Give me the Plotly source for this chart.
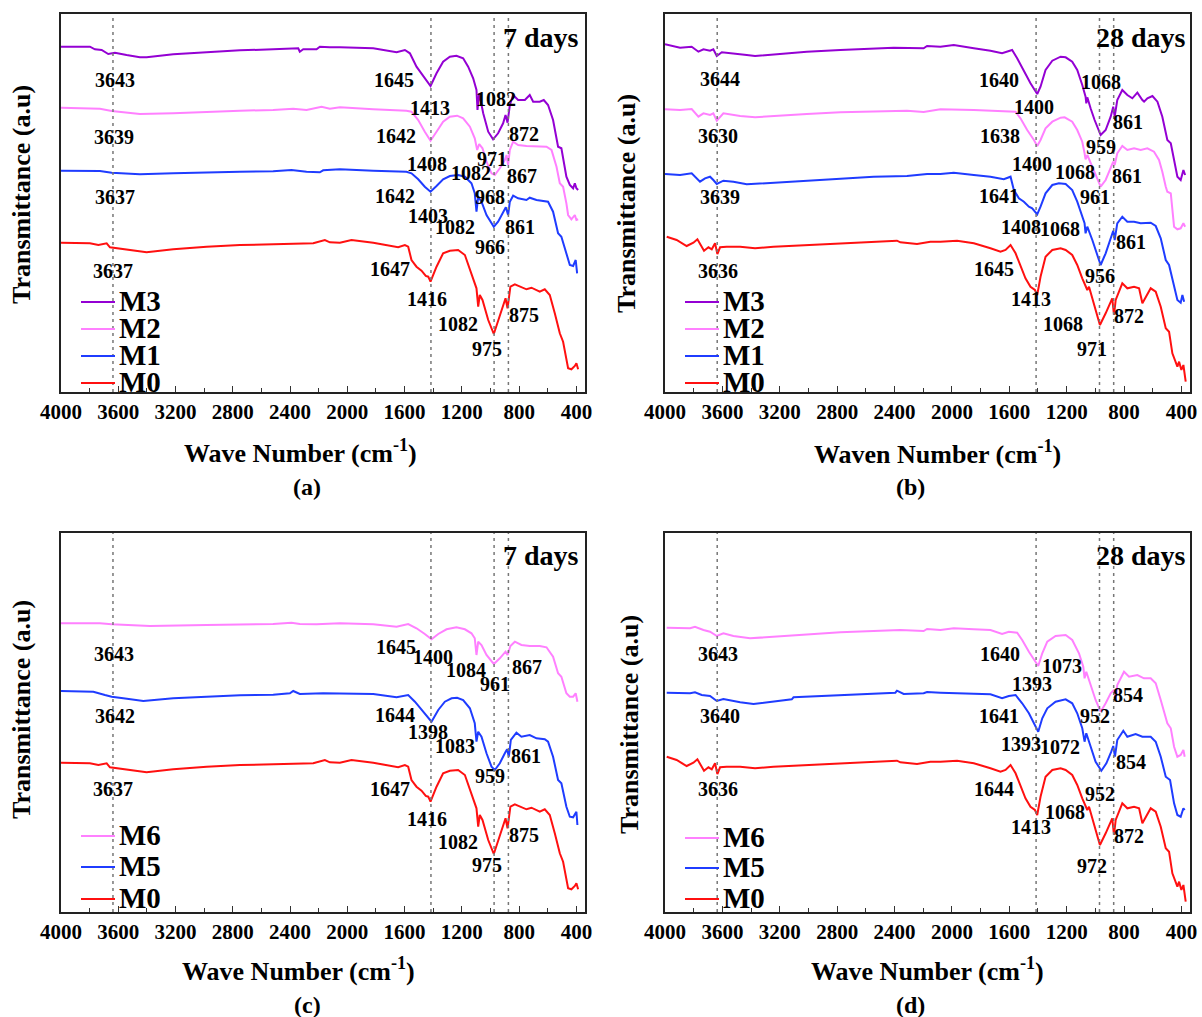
import plotly.graph_objects as go

# ---------------- data (wavenumber cm-1, transmittance a.u.) ----------------
M0_7d_wn = [4000, 3798, 3739, 3681, 3658, 3565, 3402, 3216, 2983, 2750, 2518, 2238, 2157, 2122,
            2052, 1971, 1819, 1645, 1598, 1575, 1552, 1517, 1482, 1452, 1435, 1419, 1377, 1331,
            1284, 1226, 1179, 1133, 1098, 1086, 1075, 1056, 1016, 977, 935, 895, 881, 861, 830,
            795, 749, 714, 656, 621, 586, 551, 516, 493, 458, 435, 411, 400, 388]
M0_7d_t = [149.3, 148.7, 147, 148.7, 144.7, 142.7, 139.7, 142.7, 145.3, 147, 148, 148.7, 152, 149.7,
           149.3, 152, 149.3, 144.7, 147, 145.3, 132, 125.3, 121.3, 116, 115.3, 110.3, 125.3, 138.7,
           141.3, 142, 137, 118.7, 103.7, 85.3, 97, 92, 72, 58, 75.3, 93.7, 83.7, 105.3, 107.7,
           105.3, 102.7, 104.3, 100.3, 102.7, 97, 78.7, 58.7, 50.3, 23.7, 22.7, 26, 28.7, 22.7]

M1_7d_wn = [4000, 3728, 3646, 3449, 3216, 2983, 2750, 2518, 2390, 2285, 2192, 2169,
            2052, 1819, 1587, 1552, 1505, 1459, 1419, 1377, 1331, 1284, 1226, 1179, 1133, 1110,
            1098, 1086, 1063, 1028, 993, 977, 947, 912, 893, 877, 865, 842, 807, 749, 726, 679,
            633, 598, 563, 528, 505, 470, 446, 423, 405, 395]
M1_7d_t = [221.3, 221, 219.3, 217.7, 218.7, 219.7, 220.3, 220.7, 222, 220.3, 219.7, 221.7,
           222.7, 221.3, 220.3, 218.7, 212.7, 205.3, 200.3, 206, 212.7, 216, 217, 215.3, 208.7, 198.7,
           180.3, 195.3, 190.3, 177, 168, 165.3, 170.3, 178.7, 184.7, 177, 190.3, 196.3, 193.7, 192,
           194.3, 192, 191.3, 190.3, 180.3, 158.7, 155.3, 138.7, 127, 126, 132, 118.7]

M2_7d_wn = [4000, 3728, 3646, 3449, 3216, 2983, 2750, 2518, 2378, 2285, 2180, 2122,
            2052, 1819, 1587, 1552, 1505, 1459, 1419, 1377, 1331, 1284, 1233, 1191, 1144, 1110,
            1093, 1079, 1056, 1028, 993, 970, 935, 900, 888, 877, 865, 842, 807, 749, 702, 656,
            609, 574, 539, 516, 493, 470, 458, 435, 411, 400, 388]
M2_7d_t = [284.3, 283.3, 281, 278, 278.7, 280.3, 281.3, 282, 283.3, 282, 285.3, 283.3,
           284.7, 282.7, 281.3, 280.3, 272, 260.3, 251.3, 260.3, 270.3, 275.3, 276.3, 273.7, 265.3,
           253.7, 242, 248, 243.7, 230.3, 218.7, 217, 223.7, 232, 237, 227, 242, 250.3, 247, 246,
           246, 245.3, 245.3, 242, 225.3, 208.7, 205.3, 188.7, 177, 172.7, 177, 172, 172.7]

M3_7d_wn = [4000, 3867, 3798, 3763, 3716, 3670, 3623, 3542, 3449, 3402, 3216, 2983, 2750, 2518,
            2343, 2332, 2308, 2215, 2192, 2122,
            2052, 1819, 1656, 1598, 1563, 1517, 1459, 1419, 1377, 1331, 1284, 1238, 1191, 1156,
            1121, 1098, 1091, 1079, 1051, 1016, 982, 947, 912, 895, 881, 865, 842, 807, 760, 726,
            702, 656, 628, 598, 563, 528, 505, 470, 446, 423, 411, 400, 388]
M3_7d_t = [345.3, 345, 345.3, 342.7, 342, 338, 339.3, 337, 334.7, 334.7, 337.7, 339.7, 341.7, 342.7,
           343.7, 340.3, 342.7, 342.7, 345.3, 344.7,
           344.7, 343.7, 339.7, 342, 338.7, 325.3, 313.7, 306, 318.7, 330.3, 335.3, 336.3, 333.7,
           325.3, 313.7, 302, 282, 298.7, 278.7, 260.3, 252.7, 258.7, 268.7, 277, 269.3, 287, 297,
           292, 292, 297, 290.3, 290.3, 292, 287, 272, 245.3, 243.7, 215.3, 207, 203.7, 208.7,
           203.7, 202]

M5_7d_wn = [4000, 3774, 3693, 3646, 3565, 3425, 3216, 2983, 2750, 2518, 2401, 2378, 2332, 2169,
            2052, 1819, 1656, 1575, 1528, 1470, 1412, 1365, 1319, 1272, 1233, 1191, 1144, 1110,
            1098, 1086, 1063, 1028, 993, 970, 935, 900, 884, 872, 858, 819, 784, 726, 679, 621,
            598, 563, 528, 505, 470, 446, 423, 400, 393]
M5_7d_t = [221, 220.3, 217, 215.3, 213.7, 211, 213.7, 215.3, 216.7, 217.3, 218.7, 221, 218, 218.7,
           218.7, 218, 214.7, 217, 210.3, 200.3, 190.3, 202, 210.3, 213.7, 214.3, 212, 203.7, 188.7,
           170.3, 180.3, 175.3, 158.7, 145.3, 142, 148.7, 158.7, 162.7, 155.3, 172, 179.3, 175.3,
           177, 173.7, 172.7, 170.3, 155.3, 132, 128.7, 105.3, 95.3, 94.7, 100.3, 87]

M6_7d_wn = [4000, 3728, 3646, 3379, 2983, 2518, 2390, 2332, 2215,
            2052, 1819, 1656, 1575, 1517, 1459, 1412, 1365, 1307, 1238, 1179, 1133, 1110, 1098,
            1086, 1063, 1028, 977, 935, 895, 881, 861, 830, 784, 726, 656, 609, 563, 528, 505,
            470, 446, 423, 405, 393]
M6_7d_t = [288.7, 288.7, 287.7, 286, 287, 288, 289.3, 288, 287.7,
           288.7, 287.7, 285.3, 288, 283.7, 278, 272.7, 278, 282.7, 284.7, 282.7, 278.7, 273.7, 257,
           270.3, 267, 257, 248, 253.7, 260.3, 257, 266, 270.3, 267, 266, 266, 264.7, 255.3, 238.7,
           235.3, 218.7, 215.3, 215.3, 218.7, 210.3]

M0_28d_wn = [3988, 3919, 3849, 3802, 3774, 3756, 3728, 3697, 3674, 3651, 3635, 3616, 3570, 3476,
             3372, 3244, 3011, 2778, 2546, 2383, 2359, 2243, 2150,
             2080, 1964, 1847, 1731, 1661, 1626, 1591, 1556, 1522, 1487, 1452, 1421, 1405, 1382,
             1347, 1300, 1242, 1207, 1161, 1126, 1091, 1068, 1056, 1044, 1010, 968, 928, 905, 882,
             870, 858, 812, 777, 730, 695, 672, 649, 614, 579, 544, 509, 486, 463, 428, 416, 400,
             386, 370]
M0_28d_t = [155.3, 152, 146, 149.3, 152.7, 148.7, 141.3, 144.7, 142.7, 148.7, 138, 144.7, 145.3, 145.3,
            143.7, 145.3, 147, 148.7, 149.7, 151.3, 149.7, 148, 150.3,
            150.3, 151.3, 148.7, 143.7, 140.3, 142, 147, 138.7, 125.3, 113.7, 105.3, 102, 97, 115.3,
            135.3, 142, 143.7, 142, 137, 127, 113.7, 107, 102, 105.3, 88.7, 67, 78.7, 87, 93.7, 77,
            92, 108.7, 103.7, 105.3, 103.7, 88.7, 95.3, 103.7, 100.3, 85.3, 63.7, 60.3, 38.7, 25.3,
            30.3, 22, 27, 10.3]

M1_28d_wn = [4000, 3895, 3814, 3756, 3721, 3686, 3663, 3639, 3593, 3523, 3430, 3244, 3011, 2778,
             2546, 2313, 2173,
             2080, 1987, 1847, 1731, 1638, 1591, 1568, 1533, 1498, 1463, 1440, 1405, 1382, 1347,
             1300, 1254, 1207, 1161, 1126, 1091, 1075, 1068, 1056, 1021, 986, 963, 928, 893, 875,
             865, 847, 812, 777, 730, 684, 614, 579, 544, 509, 486, 451, 428, 405, 393, 381]
M1_28d_t = [218, 217, 218.7, 210.3, 213.7, 215.3, 212, 208, 211.3, 210.3, 207.7, 209.3, 212, 213.7,
            215.3, 216, 218,
            218, 219.3, 217, 215.3, 212.7, 215.3, 202, 193.7, 190.3, 185.3, 183.7, 177.7, 185.3,
            198.7, 207, 208.7, 208, 202, 190.3, 175.3, 168.7, 158.7, 165.3, 152, 137, 127, 138.7,
            155.3, 161.3, 152, 168.7, 175.3, 170.3, 170.3, 168.7, 169.3, 166, 153.7, 132, 127,
            105.3, 92, 89.3, 97, 90.3]

M2_28d_wn = [4000, 3895, 3814, 3767, 3732, 3686, 3663, 3639, 3593, 3476, 3372, 3244, 3011, 2778,
             2546, 2313, 2197,
             2080, 1847, 1615, 1556, 1522, 1475, 1428, 1405, 1382, 1347, 1300, 1242, 1214, 1161,
             1126, 1091, 1075, 1068, 1056, 1021, 986, 963, 928, 893, 875, 865, 847, 812, 777, 730,
             684, 637, 591, 556, 533, 509, 498, 474, 451, 428, 405, 386, 374]
M2_28d_t = [282.7, 282, 283, 275.3, 278.7, 277, 278.7, 271.3, 278.7, 276, 274.7, 276, 278, 279.7,
            280.3, 281.3, 280,
            282.7, 282, 280.3, 280.3, 273.7, 262, 252, 246, 252, 263.7, 270.3, 274.3, 274.7, 270.3,
            262, 250.3, 238.7, 232.7, 237, 225.3, 213.7, 205.3, 212, 223.7, 230.3, 227, 238.7, 246,
            242, 243.7, 242, 243.7, 240.3, 232, 220.3, 205.3, 200.3, 198.7, 165.3, 162.7, 163.7,
            168.7, 165.3]

M3_28d_wn = [4000, 3895, 3814, 3767, 3732, 3686, 3663, 3639, 3604, 3523, 3430, 3372, 3244, 3011,
             2778, 2546, 2406, 2197, 2173,
             2080, 1987, 1847, 1731, 1650, 1615, 1580, 1545, 1498, 1452, 1405, 1382, 1347, 1300,
             1242, 1207, 1161, 1126, 1091, 1068, 1063, 1056, 1033, 1005, 963, 928, 893, 875, 865,
             847, 812, 777, 742, 707, 672, 660, 637, 602, 567, 533, 498, 474, 451, 428, 405, 386,
             374]
M3_28d_t = [347.7, 344.3, 345.3, 340.3, 342.7, 341.3, 342.7, 336, 339.7, 338.7, 337, 336, 337.7, 340.3,
            342, 343.3, 344.3, 343.7, 346,
            345.3, 347, 343.7, 341.3, 338.7, 340.3, 342, 333.7, 320.3, 308.7, 298, 305.3, 322, 331.3,
            335.3, 334.7, 330.3, 322, 307, 295.3, 288.7, 294.7, 283.7, 272, 257, 262, 275.3, 285.3,
            275.3, 292, 302, 297, 293.7, 299.3, 292, 290.3, 293.7, 296, 290.3, 275.3, 252, 248.7,
            232, 215.3, 212, 222, 217]

M5_28d_wn = [3988, 3825, 3791, 3744, 3686, 3639, 3593, 3476, 3383, 3244, 3116, 3104, 3011, 2778,
             2546, 2394, 2383, 2336, 2197, 2173,
             2080, 1847, 1731, 1650, 1603, 1556, 1510, 1463, 1428, 1398, 1370, 1335, 1277, 1207,
             1161, 1126, 1091, 1075, 1063, 1033, 998, 958, 923, 889, 875, 863, 847, 805, 777, 719,
             672, 614, 579, 544, 509, 479, 451, 428, 405, 386, 377]
M5_28d_t = [219.3, 218.7, 219.7, 217, 216, 211, 213, 209.7, 208, 210.3, 212.7, 214.7, 215.3, 216.7,
            218, 219.3, 221.3, 218, 218.7, 220,
            219.3, 218.7, 217.7, 213.7, 216, 217, 208.7, 198.7, 188.7, 180.3, 193.7, 203.7, 210.3,
            212.7, 208.7, 198.7, 183.7, 170.3, 178.7, 165.3, 150.3, 141.3, 148.7, 160.3, 166, 155.3,
            172, 181.3, 175.3, 178, 175.3, 175.3, 170.3, 155.3, 135.3, 132, 108.7, 97, 95.3, 103.7,
            102]

M6_28d_wn = [3988, 3825, 3791, 3732, 3686, 3639, 3593, 3523, 3407, 3244, 3011, 2778, 2546, 2359,
             2197, 2173,
             2080, 1987, 1847, 1731, 1650, 1603, 1545, 1510, 1463, 1428, 1398, 1370, 1335, 1277,
             1207, 1161, 1114, 1084, 1075, 1063, 1033, 998, 963, 928, 893, 870, 858, 847, 800, 765,
             707, 661, 614, 579, 544, 498, 474, 451, 428, 405, 386, 377]
M6_28d_t = [284.3, 283.7, 285.3, 282, 280.3, 276, 278.7, 276, 273.7, 275.3, 277.7, 279.7, 281, 282,
            281, 283,
            282, 283.7, 282.7, 282, 278, 280.3, 279.3, 272, 260.3, 252, 246, 258.7, 270.3, 276, 277,
            272, 258.7, 245.3, 233.7, 240.3, 227, 212, 200.3, 208.7, 218.7, 222, 212, 227, 240.3,
            235.3, 237, 233.7, 233.7, 228.7, 212, 188.7, 183.7, 165.3, 155.3, 157, 162, 155.3]

x_tick_vals = [4000, 3600, 3200, 2800, 2400, 2000, 1600, 1200, 800, 400]
x_tick_text = ["4000", "3600", "3200", "2800", "2400", "2000", "1600", "1200", "800", "400"]

panel_a_marks = [3637, 1416, 975, 875]
panel_b_marks = [3636, 1413, 971, 872]

# ---------------- styling ----------------
W, H = 1202, 1017
FONT = "Liberation Serif"
COL = {"M0": "#ff1010", "M1": "#1f3cff", "M2": "#ff80ff", "M3": "#9400d3",
       "M5": "#1f3cff", "M6": "#ff80ff"}

panels = {
    "a": dict(box=(61, 585, 14, 392),
              series=[("M3", M3_7d_wn, M3_7d_t), ("M2", M2_7d_wn, M2_7d_t),
                      ("M1", M1_7d_wn, M1_7d_t), ("M0", M0_7d_wn, M0_7d_t)],
              marks=panel_a_marks),
    "b": dict(box=(665, 1190, 14, 392),
              series=[("M3", M3_28d_wn, M3_28d_t), ("M2", M2_28d_wn, M2_28d_t),
                      ("M1", M1_28d_wn, M1_28d_t), ("M0", M0_28d_wn, M0_28d_t)],
              marks=panel_b_marks),
    "c": dict(box=(61, 585, 533, 912),
              series=[("M6", M6_7d_wn, M6_7d_t), ("M5", M5_7d_wn, M5_7d_t),
                      ("M0", M0_7d_wn, M0_7d_t)],
              marks=panel_a_marks),
    "d": dict(box=(665, 1190, 533, 912),
              series=[("M6", M6_28d_wn, M6_28d_t), ("M5", M5_28d_wn, M5_28d_t),
                      ("M0", M0_28d_wn, M0_28d_t)],
              marks=panel_b_marks),
}


def px(x):
    return x / W


def py(y):
    return 1 - y / H


fig = go.Figure()
shapes = []
annotations = []

for i, (key, p) in enumerate(panels.items()):
    n = "" if i == 0 else str(i + 1)
    xa, ya = "xaxis" + n, "yaxis" + n
    xr, yr = "x" + n, "y" + n
    x0, x1, y0, y1 = p["box"]
    height_px = y1 - y0
    for name, wn, t in p["series"]:
        fig.add_trace(go.Scatter(x=wn, y=t, mode="lines", name=name, showlegend=False,
                                 line=dict(color=COL[name], width=2),
                                 xaxis=xr, yaxis=yr))
    fig.layout[xa] = dict(domain=[px(x0), px(x1)], range=[4000, 340], anchor=yr,
                          showline=True, mirror=True, linecolor="#222", linewidth=1.5,
                          showgrid=False, zeroline=False, automargin=False,
                          tickmode="array", tickvals=x_tick_vals, ticktext=x_tick_text,
                          ticks="inside", ticklen=6, tickwidth=1.2, tickcolor="#333",
                          minor=dict(dtick=200, tick0=0, ticks="inside", ticklen=4,
                                     tickwidth=1.2, tickcolor="#333"),
                          tickfont=dict(family=FONT, size=21, color="black", weight="bold"))
    fig.layout[ya] = dict(domain=[py(y1), py(y0)], range=[0, height_px], anchor=xr,
                          showline=True, mirror=True, linecolor="#222", linewidth=1.5,
                          showgrid=False, zeroline=False, showticklabels=False, ticks="",
                          automargin=False)
    for m in p["marks"]:
        shapes.append(dict(type="line", xref=xr, yref=yr + " domain", x0=m, x1=m, y0=0, y1=1,
                           line=dict(color="#777", width=1.5, dash="3px,4px")))

# legends (drawn from the series list of each panel)
legend_pos = {"a": (81, 115, [302, 329, 356, 383]),
              "b": (685, 719, [302, 329, 356, 383]),
              "c": (81, 115, [836, 867, 899]),
              "d": (685, 719, [838, 868, 899])}
for key, (lx0, lx1, rows) in legend_pos.items():
    for (name, _, _), ry in zip(panels[key]["series"], rows):
        shapes.append(dict(type="line", xref="paper", yref="paper",
                           x0=px(lx0), x1=px(lx1), y0=py(ry), y1=py(ry),
                           line=dict(color=COL[name], width=2.2)))
        annotations.append(dict(xref="paper", yref="paper", x=px(lx1 + 2), y=py(ry - 1),
                                xanchor="left", yanchor="middle", showarrow=False,
                                text=name,
                                font=dict(family=FONT, size=29, color="black", weight="bold")))

# peak labels (text, x px, y px)
peak_labels = [
    ("3643", 115, 80), ("3639", 114, 137), ("3637", 115, 197), ("3637", 113, 271),
    ("1645", 394, 80), ("1413", 430, 108), ("1082", 496, 99), ("1642", 396, 136),
    ("872", 524, 134), ("971", 492, 159), ("1408", 427, 164), ("1082", 471, 173),
    ("867", 522, 176), ("1642", 395, 196), ("968", 490, 197), ("1403", 428, 216),
    ("1082", 455, 227), ("861", 520, 227), ("966", 490, 247), ("1647", 390, 269),
    ("1416", 427, 299), ("875", 524, 315), ("1082", 458, 324), ("975", 487, 349),
    ("3644", 720, 79), ("3630", 718, 136), ("3639", 720, 197), ("3636", 718, 271),
    ("1640", 999, 80), ("1068", 1101, 82), ("1400", 1034, 107), ("861", 1128, 122),
    ("1638", 1000, 136), ("959", 1101, 147), ("1400", 1032, 164), ("1068", 1075, 172),
    ("861", 1127, 176), ("1641", 999, 196), ("961", 1095, 197), ("1408", 1021, 227),
    ("1068", 1060, 229), ("861", 1131, 242), ("1645", 994, 269), ("956", 1100, 276),
    ("1413", 1031, 299), ("872", 1129, 316), ("1068", 1063, 324), ("971", 1092, 349),
    ("3643", 114, 654), ("3642", 115, 716), ("3637", 113, 789),
    ("1645", 396, 647), ("1400", 433, 657), ("1084", 466, 670), ("867", 527, 667),
    ("961", 495, 684), ("1644", 395, 715), ("1398", 428, 732), ("1083", 455, 746),
    ("861", 526, 756), ("959", 490, 776), ("1647", 390, 789), ("1416", 427, 819),
    ("875", 524, 835), ("1082", 458, 842), ("975", 487, 865),
    ("3643", 718, 654), ("3640", 720, 716), ("3636", 718, 789),
    ("1640", 1000, 654), ("1073", 1062, 666), ("1393", 1032, 684), ("854", 1128, 695),
    ("1641", 999, 716), ("952", 1095, 716), ("1393", 1021, 744), ("1072", 1060, 747),
    ("854", 1131, 762), ("1644", 994, 789), ("952", 1100, 794), ("1068", 1065, 812),
    ("1413", 1031, 827), ("872", 1129, 836), ("972", 1092, 866),
]
for txt, x, y in peak_labels:
    annotations.append(dict(xref="paper", yref="paper", x=px(x), y=py(y), text=txt,
                            xanchor="center", yanchor="middle", showarrow=False,
                            font=dict(family=FONT, size=20, color="black", weight="bold")))

# day labels
for txt, x, y in [("7 days", 581, 37), ("28 days", 1188, 37), ("7 days", 581, 555),
                  ("28 days", 1188, 555)]:
    annotations.append(dict(xref="paper", yref="paper", x=px(x), y=py(y), text=txt,
                            xanchor="right", yanchor="middle", showarrow=False,
                            font=dict(family=FONT, size=28, color="black", weight="bold")))

# axis titles
for txt, x, y in [("Wave Number (cm<sup>-1</sup>)", 300, 451),
                  ("Waven Number (cm<sup>-1</sup>)", 937, 453),
                  ("Wave Number (cm<sup>-1</sup>)", 298, 969),
                  ("Wave Number (cm<sup>-1</sup>)", 927, 969)]:
    annotations.append(dict(xref="paper", yref="paper", x=px(x), y=py(y), text=txt,
                            xanchor="center", yanchor="middle", showarrow=False,
                            font=dict(family=FONT, size=26, color="black", weight="bold")))
for x, y in [(21, 195), (627, 204), (21, 710), (629, 725)]:
    annotations.append(dict(xref="paper", yref="paper", x=px(x), y=py(y),
                            text="Transmittance (a.u)", textangle=-90,
                            xanchor="center", yanchor="middle", showarrow=False,
                            font=dict(family=FONT, size=26, color="black", weight="bold")))
for txt, x, y in [("(a)", 307, 487), ("(b)", 910, 487), ("(c)", 307, 1005), ("(d)", 910, 1005)]:
    annotations.append(dict(xref="paper", yref="paper", x=px(x), y=py(y), text=txt,
                            xanchor="center", yanchor="middle", showarrow=False,
                            font=dict(family=FONT, size=24, color="black", weight="bold")))

fig.update_layout(width=W, height=H,
                  margin=dict(l=0, r=0, t=0, b=0, pad=0, autoexpand=False),
                  paper_bgcolor="white", plot_bgcolor="white",
                  shapes=shapes, annotations=annotations, showlegend=False)

fig.write_html("out.html")
